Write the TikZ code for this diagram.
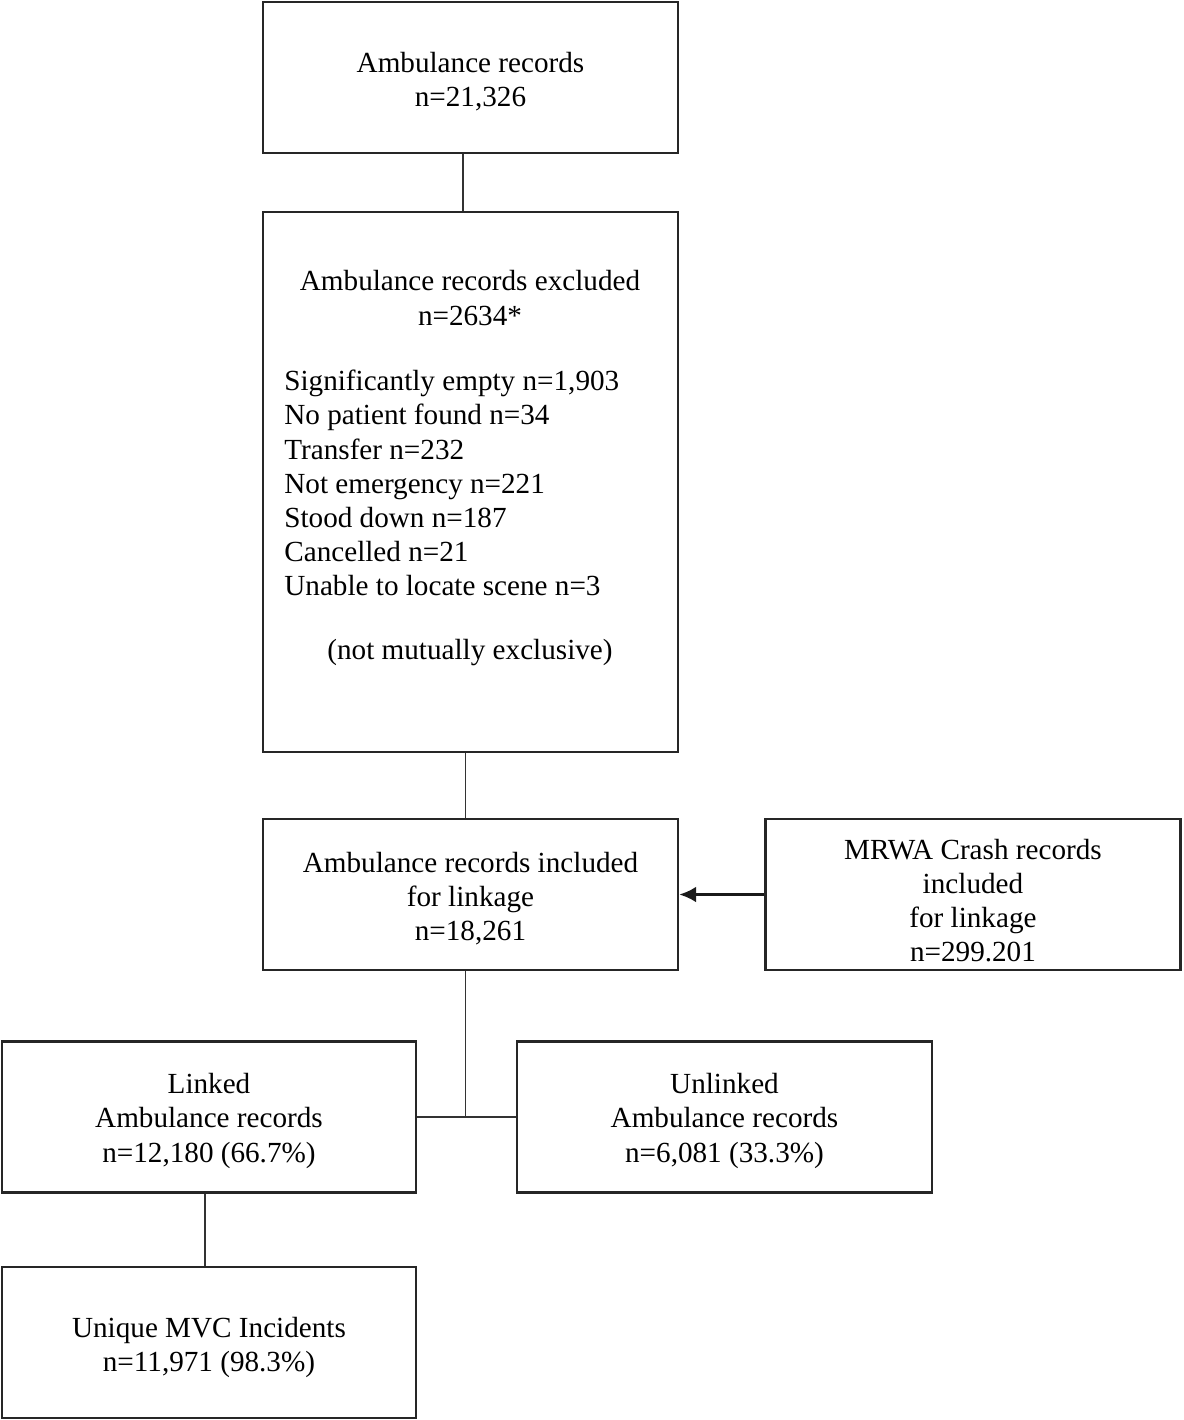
\documentclass[tikz,border=0pt]{standalone}
\usepackage{fontspec}
\setmainfont{Liberation Serif}
\usetikzlibrary{arrows.meta, positioning, calc}
\newcommand{\lift}[1][0.56cm]{\rule{0pt}{#1}}
\tikzstyle{record} = [rectangle, minimum width=8.3cm, minimum height=3.02cm, text centered, align=center, draw=black!85, line width=1.4pt, inner sep=0pt]
\tikzstyle{line} = [draw=black!80, line width=1.1pt]
\tikzstyle{arrow} = [draw=black!90, line width=1.6pt, -{Latex[length=3.4mm, width=3.2mm]}]

\begin{document}
\begin{tikzpicture}[font=\fontsize{16.6}{19.4}\selectfont]
    \useasboundingbox (0,0) rectangle (23.68,-28.4);

    % Main column
    \node (total) [record] at (9.41,-1.55) {\lift Ambulance records\\n=21,326};
    \node (excl) [record, minimum height=10.8cm] at (9.41,-9.64) {};
    \node (exhead) [align=center] at (9.40,-5.96) {Ambulance records excluded\\n=2634*};
    \node (exlist) [align=left, anchor=west, inner sep=0pt] at (5.68,-9.66) {%
        Significantly empty n=1,903\\
        No patient found n=34\\
        Transfer n=232\\
        Not emergency n=221\\
        Stood down n=187\\
        Cancelled n=21\\
        Unable to locate scene n=3};
    \node (exnote) at (9.40,-13.06) {(not mutually exclusive)};
    \node (incl) [record] at (9.41,-17.89) {\lift Ambulance records included\\for linkage\\n=18,261};

    % Crash data
    \node (mrwa) [record, right=1.7cm of incl] {\lift[0.64cm]MRWA Crash records\\included\\for linkage\\n=299.201};

    % Linkage result
    \node (linked) [record, minimum width=8.28cm] at (4.18,-22.34) {\lift Linked\\Ambulance records\\n=12,180 (66.7\%)};
    \node (unlinked) [record] at (14.49,-22.34) {\lift Unlinked\\Ambulance records\\n=6,081 (33.3\%)};
    \node (mvc) [record, minimum width=8.28cm] at (4.18,-26.85) {\lift[0.6cm]Unique MVC Incidents\\n=11,971 (98.3\%)};

    \coordinate (split) at ($(incl.south |- linked.east)+(-0.1,0)$);

    \draw [line] ($(total.south)+(-0.15,0)$) -- ($(excl.north)+(-0.15,0)$);
    \draw [line] ($(excl.south)+(-0.1,0)$) -- ($(incl.north)+(-0.1,0)$);
    \draw [arrow] (mrwa) -- (incl);
    \draw [line] ($(incl.south)+(-0.1,0)$) -- (split);
    \draw [line] (linked) -- (unlinked);
    \draw [line] ($(linked.south)+(-0.08,0)$) -- ($(mvc.north)+(-0.08,0)$);
\end{tikzpicture}
\end{document}
